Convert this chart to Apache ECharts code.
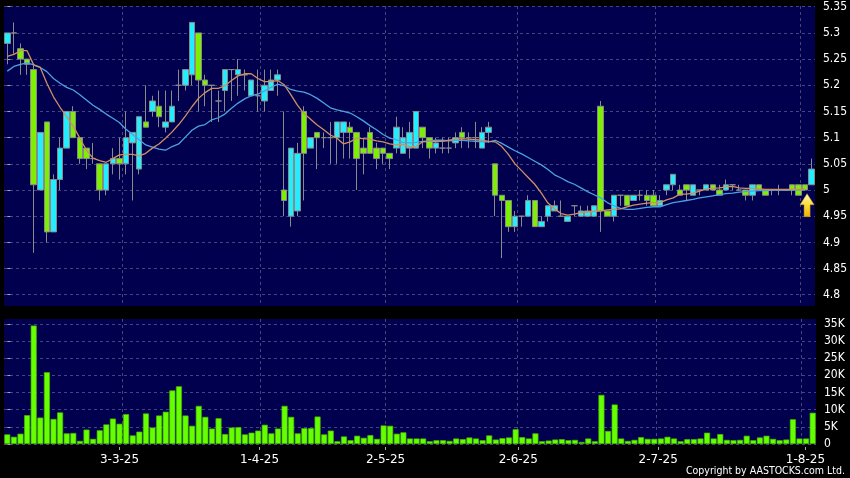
<!DOCTYPE html>
<html><head><meta charset="utf-8">
<style>html,body{margin:0;padding:0;background:#000}#c{width:850px;height:478px}</style>
<script src="https://cdn.jsdelivr.net/npm/echarts@6/dist/echarts.min.js"></script>
</head><body><div id="c"></div>
<script>
const opens=[5.28,5.30,5.27,5.25,5.23,5.00,5.13,4.92,5.02,5.08,
5.15,5.10,5.08,5.06,5.05,5.00,5.05,5.06,5.05,5.09,
5.04,5.13,5.15,5.16,5.12,5.13,5.20,5.20,5.22,5.30,
5.21,5.20,5.17,5.19,5.23,5.22,5.22,5.18,5.18,5.17,
5.19,5.21,5.00,4.95,4.96,5.15,5.08,5.11,5.10,5.10,
5.10,5.11,5.12,5.11,5.08,5.11,5.08,5.08,5.07,5.08,
5.07,5.08,5.08,5.12,5.10,5.08,5.08,5.08,5.09,5.11,
5.10,5.10,5.08,5.11,5.05,4.99,4.98,4.93,4.95,4.95,
4.98,4.93,4.95,4.96,4.95,4.94,4.97,4.95,4.95,4.95,
5.16,4.96,4.95,4.99,4.99,4.98,4.99,4.99,4.99,4.97,
5.00,5.01,5.00,5.01,4.99,5.00,5.00,5.01,5.00,5.00,
5.01,5.00,5.00,4.99,5.01,5.00,5.00,5.00,5.00,5.01,
5.01,5.01,5.01];
const closes=[5.30,5.30,5.25,5.24,5.01,5.11,4.92,5.02,5.08,5.15,
5.10,5.06,5.06,5.06,5.00,5.05,5.06,5.05,5.10,5.11,
5.14,5.12,5.17,5.14,5.13,5.16,5.20,5.23,5.32,5.21,
5.20,5.20,5.17,5.23,5.23,5.23,5.22,5.21,5.18,5.20,
5.21,5.22,4.98,5.08,5.07,5.07,5.10,5.10,5.10,5.10,
5.13,5.13,5.11,5.06,5.07,5.07,5.06,5.07,5.06,5.12,
5.10,5.11,5.15,5.10,5.08,5.09,5.08,5.08,5.10,5.10,
5.10,5.10,5.11,5.12,4.99,4.98,4.93,4.95,4.95,4.98,
4.93,4.94,4.97,4.97,4.95,4.95,4.97,4.96,4.96,4.97,
4.96,4.95,4.99,4.99,4.97,4.99,4.99,4.98,4.97,4.98,
5.01,5.03,4.99,5.00,5.01,5.00,5.01,5.00,4.99,5.01,
5.01,5.00,4.99,5.01,5.00,4.99,5.00,5.00,5.00,5.00,
4.99,5.00,5.04];
const lows=[5.24,5.26,5.22,5.22,4.88,5.00,4.90,4.92,5.00,5.08,
5.10,5.05,5.04,5.05,4.98,4.99,5.03,5.02,5.03,4.98,
5.03,5.12,5.14,5.12,5.11,5.13,5.17,5.19,5.20,5.15,
5.16,5.13,5.13,5.15,5.17,5.18,5.19,5.18,5.15,5.15,
5.19,5.18,4.95,4.93,4.95,4.98,5.08,5.04,5.08,5.05,
5.05,5.06,5.06,5.00,5.03,5.07,5.04,5.05,5.04,5.07,
5.07,5.06,5.08,5.08,5.06,5.07,5.07,5.07,5.08,5.08,
5.08,5.08,5.08,5.09,4.95,4.87,4.92,4.92,4.93,4.95,
4.93,4.93,4.94,4.96,4.95,4.94,4.95,4.95,4.95,4.95,
4.92,4.95,4.94,4.97,4.97,4.98,4.98,4.97,4.97,4.97,
4.99,5.00,4.99,4.98,4.99,4.99,5.00,5.00,4.99,5.00,
5.00,5.00,4.98,4.98,5.00,4.99,4.99,4.99,5.00,4.99,
4.99,5.00,5.01];
const highs=[5.30,5.32,5.28,5.25,5.24,5.11,5.13,5.03,5.10,5.15,
5.16,5.10,5.08,5.09,5.05,5.05,5.08,5.10,5.15,5.11,
5.14,5.20,5.18,5.19,5.19,5.19,5.23,5.23,5.32,5.30,
5.22,5.20,5.19,5.23,5.23,5.25,5.23,5.21,5.23,5.23,
5.23,5.23,5.15,5.08,5.09,5.16,5.10,5.11,5.11,5.13,
5.13,5.13,5.13,5.11,5.10,5.12,5.09,5.08,5.07,5.14,
5.12,5.13,5.15,5.12,5.10,5.10,5.10,5.10,5.11,5.12,
5.11,5.13,5.12,5.13,5.05,4.99,4.98,4.96,4.95,4.99,
4.98,4.95,4.97,4.98,4.98,4.95,4.97,4.97,4.97,4.97,
5.17,4.96,4.99,4.99,4.99,4.99,5.00,5.00,5.00,4.99,
5.01,5.03,5.01,5.01,5.01,5.00,5.01,5.01,5.01,5.02,
5.01,5.01,5.00,5.01,5.01,5.00,5.00,5.01,5.00,5.01,
5.01,5.01,5.06];
const maShort=[5.255,5.259,5.266,5.266,5.239,5.234,5.204,5.178,5.158,5.14,
5.122,5.099,5.076,5.061,5.056,5.053,5.06,5.067,5.068,5.068,
5.065,5.07,5.08,5.088,5.099,5.111,5.125,5.141,5.159,5.175,
5.186,5.194,5.194,5.199,5.209,5.218,5.222,5.222,5.213,5.207,
5.207,5.209,5.201,5.182,5.162,5.146,5.135,5.124,5.115,5.105,
5.099,5.088,5.092,5.099,5.098,5.097,5.094,5.092,5.088,5.086,
5.087,5.083,5.083,5.092,5.093,5.093,5.093,5.095,5.097,5.098,
5.097,5.096,5.095,5.093,5.092,5.083,5.068,5.05,5.037,5.024,
5.011,4.994,4.975,4.964,4.955,4.952,4.954,4.957,4.958,4.959,
4.96,4.962,4.963,4.964,4.968,4.971,4.973,4.975,4.976,4.976,
4.981,4.985,4.992,4.992,4.994,4.998,5.002,5.003,5.004,5.006,
5.007,5.004,5.003,5.003,5.002,5.001,5.001,5.001,5.001,5.001,
5.001,5.001];
const maLong=[5.227,5.236,5.24,5.243,5.239,5.234,5.226,5.213,5.204,5.196,
5.191,5.182,5.172,5.162,5.154,5.145,5.137,5.129,5.116,5.106,
5.096,5.086,5.082,5.078,5.076,5.083,5.088,5.101,5.114,5.122,
5.125,5.134,5.138,5.145,5.156,5.166,5.174,5.18,5.183,5.189,
5.196,5.202,5.199,5.192,5.189,5.187,5.182,5.175,5.166,5.157,
5.153,5.15,5.147,5.14,5.132,5.123,5.115,5.106,5.099,5.096,
5.091,5.09,5.091,5.093,5.094,5.095,5.095,5.094,5.095,5.095,
5.094,5.093,5.092,5.092,5.095,5.089,5.082,5.075,5.069,5.062,
5.055,5.048,5.039,5.029,5.023,5.016,5.011,5.004,4.997,4.991,
4.985,4.976,4.97,4.965,4.963,4.963,4.965,4.967,4.968,4.968,
4.972,4.976,4.978,4.98,4.982,4.985,4.987,4.989,4.991,4.993,
4.994,4.996,4.997,4.998,4.999,4.999,5,5,5,5,
5,5.001];
const volumes=[2800,2100,3000,8400,34500,7700,20900,7300,9200,3100,
3200,900,4200,1500,4000,5700,7400,5900,8700,2500,
3600,8900,4800,8300,9400,15600,16800,8300,5300,11100,
7900,4500,7500,2900,4800,4900,2800,3300,3900,5600,
3100,4500,11100,7900,3100,4600,4600,8000,2800,3900,
800,2200,1100,2400,1800,2600,1500,5400,5300,3000,
3400,1600,1600,1600,800,1100,1100,900,1600,1400,
1900,1600,1100,2500,1300,1700,1900,4300,2000,1600,
3100,800,1000,1300,1400,1100,1200,600,1600,800,
14300,3800,11500,1600,900,1200,2000,1500,1500,1600,
2100,1600,800,1400,1400,1600,3300,1600,2900,1200,
1100,1200,2400,1100,1900,2400,1500,1100,1300,7200,
1600,1600,9100];
const dateLabels=['3-3-25','1-4-25','2-5-25','2-6-25','2-7-25','1-8-25'];
const dateTickAt=[17,38.2,57.3,77.4,98.6,120.9];
const dateGridAt=[17.42,38.33,57.27,77.27,98.24,120.2];
const priceTicks=[4.8,4.85,4.9,4.95,5,5.05,5.1,5.15,5.2,5.25,5.3,5.35];
const volumeTicks=[0,5000,10000,15000,20000,25000,30000,35000];
const arrowAt=[[121,4.971]];
const copyrightText='Copyright by AASTOCKS.com Ltd.';

const categories=opens.map((_,i)=>String(i));
const candles=opens.map((o,i)=>[o,closes[i],lows[i],highs[i]]);
const F='"DejaVu Sans", sans-serif';
const FC='"DejaVu Sans Condensed", "DejaVu Sans", sans-serif';
const dash={color:'#44447f',width:1,type:[3,3]};
const chart=echarts.init(document.getElementById('c'),null,{renderer:'canvas'});
const hiddenCat=g=>({type:'category',gridIndex:g,data:categories,boundaryGap:true,
  axisLine:{show:false},axisTick:{show:false},axisLabel:{show:false},splitLine:{show:false}});
const gridAxis=g=>({type:'value',gridIndex:g,position:'bottom',min:-0.5,max:122.5,
  axisLine:{show:false},axisLabel:{show:false},
  axisTick:{show:false,customValues:dateGridAt},
  splitLine:{show:true,lineStyle:dash}});
chart.setOption({
  animation:false,
  backgroundColor:'#000000',
  title:{text:copyrightText,right:5,top:466,padding:0,
    textStyle:{color:'#ffffff',fontFamily:FC,fontSize:10.5,fontWeight:'normal'}},
  grid:[
    {left:4,top:6,width:812,height:300,show:true,backgroundColor:'#00004f',borderWidth:0},
    {left:4,top:319,width:812,height:125,show:true,backgroundColor:'#00004f',borderWidth:0}
  ],
  xAxis:[
    hiddenCat(0),hiddenCat(1),gridAxis(0),gridAxis(1),
    {type:'value',gridIndex:1,position:'bottom',min:-0.5,max:122.5,offset:3,
     axisLine:{show:false},
     axisTick:{show:true,length:3,customValues:dateTickAt,lineStyle:{color:'#aaaaaa'}},
     axisLabel:{show:true,customValues:dateTickAt,color:'#ffffff',fontFamily:F,fontSize:12,margin:7,
       formatter:v=>dateLabels[dateTickAt.indexOf(v)]||''},
     splitLine:{show:false}}
  ],
  yAxis:[
    {type:'value',gridIndex:0,position:'right',min:4.7785,max:5.3514,offset:2,
     axisLine:{show:false},
     axisTick:{show:true,length:3,customValues:priceTicks,lineStyle:{color:'#aaaaaa'}},
     axisLabel:{customValues:priceTicks,color:'#ffffff',fontFamily:FC,fontSize:12,margin:6,padding:[2,0,0,0],
       formatter:v=>String(v)},
     splitLine:{show:true,lineStyle:dash}},
    {type:'value',gridIndex:1,position:'right',min:0,max:36400,offset:2,
     axisLine:{show:false},
     axisTick:{show:true,length:3,customValues:volumeTicks,lineStyle:{color:'#aaaaaa'}},
     axisLabel:{customValues:volumeTicks,color:'#ffffff',fontFamily:FC,fontSize:12,margin:6,padding:[2,0,0,0],
       formatter:v=>v===0?'0':(v/1000)+'K'},
     splitLine:{show:true,lineStyle:dash}}
  ],
  series:[
    {type:'candlestick',name:'Price',xAxisIndex:0,yAxisIndex:0,data:candles,barWidth:6,z:3,
     itemStyle:{color:'#22eeff',color0:'#7cf000',borderColor:'#8a8a8a',borderColor0:'#8a8a8a',borderWidth:1}},
    {type:'line',name:'MA long',xAxisIndex:0,yAxisIndex:0,data:maLong,showSymbol:false,smooth:false,z:4,
     lineStyle:{color:'#4aa3e0',width:1.3}},
    {type:'line',name:'MA short',xAxisIndex:0,yAxisIndex:0,data:maShort,showSymbol:false,smooth:false,z:5,
     lineStyle:{color:'#cf8f63',width:1.3}},
    {type:'scatter',name:'Latest',xAxisIndex:0,yAxisIndex:0,data:arrowAt,z:6,
     symbol:'path://M7 0 L14 11 L10 11 L10 23 L4 23 L4 11 L0 11 Z',symbolSize:[14,23],symbolOffset:[2,0],
     itemStyle:{opacity:1,borderColor:'#c89a20',borderWidth:0.5,
       color:{type:'linear',x:0,y:0,x2:0,y2:1,colorStops:[{offset:0,color:'#fffbc8'},{offset:0.45,color:'#ffe040'},{offset:1,color:'#f0b000'}]}}},
    {type:'bar',name:'Volume',xAxisIndex:1,yAxisIndex:1,data:volumes,barWidth:6,z:3,
     itemStyle:{color:'#66ff00',borderColor:'#48b800',borderWidth:0.7}}
  ]
});
</script></body></html>
